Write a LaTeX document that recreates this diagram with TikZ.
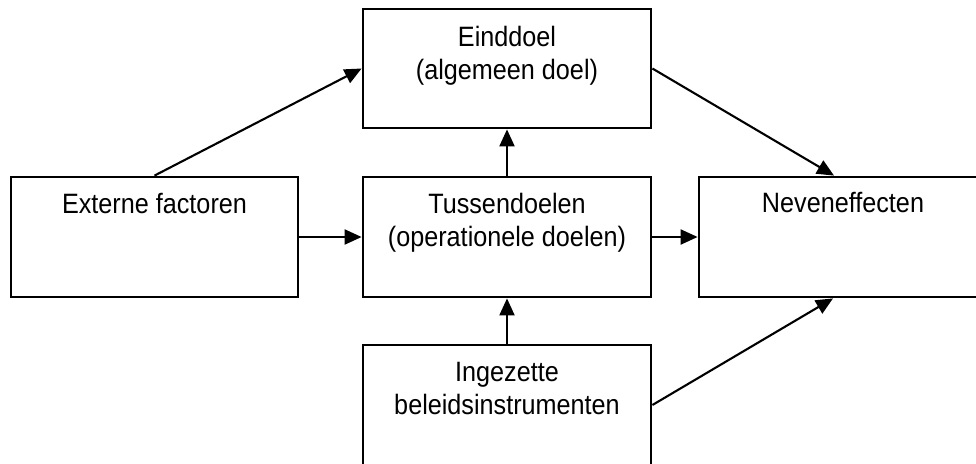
\documentclass[tikz,border=0pt]{standalone}
\usepackage{fontspec}
\setmainfont[FakeStretch=0.9]{Liberation Sans}
\usetikzlibrary{arrows.meta,calc}
\begin{document}
\begin{tikzpicture}[x=1pt,y=-1pt,
  box/.style={draw, line width=2.8pt, minimum width=288pt, minimum height=120pt, inner sep=0pt},
  boxtext/.style={anchor=base, align=center, inner sep=0pt, font=\fontsize{28}{33}\selectfont},
  flow/.style={line width=2.1pt, -{Triangle[length=17pt,width=15pt]}}]
  \useasboundingbox (0,0) rectangle (976,463);

  % boxes
  \node[box, minimum width=287pt, minimum height=120pt] (ext)  at (154.5,237) {};
  \node[box, minimum height=119pt] (eind) at (507,68.5) {};
  \node[box] (tus)  at (507,237) {};
  \node[box] (nev)  at (843,237) {};
  \node[box] (inz)  at (507,405) {};

  % box texts (placed by the baseline of their last line)
  \node[boxtext] (ext-t)  at ($(ext.north)+(0,38)$)  {Externe factoren};
  \node[boxtext] (eind-t) at ($(eind.north)+(0,72)$) {Einddoel\\(algemeen doel)};
  \node[boxtext] (tus-t)  at ($(tus.north)+(0,71)$)  {Tussendoelen\\(operationele doelen)};
  \node[boxtext] (nev-t)  at ($(nev.north)+(0,37)$)  {Neveneffecten};
  \node[boxtext] (inz-t)  at ($(inz.north)+(0,71)$)  {Ingezette\\beleidsinstrumenten};

  % connectors
  \draw[flow] (ext.north) -- (eind.west);
  \draw[flow] (eind.east) -- ([xshift=-9pt]nev.north);
  \draw[flow] (tus.north) -- (eind.south);
  \draw[flow] (ext.east) -- (tus.west);
  \draw[flow] (tus.east) -- (nev.west);
  \draw[flow] (inz.north) -- (tus.south);
  \draw[flow] (inz.east) -- ([xshift=-10pt]nev.south);
\end{tikzpicture}
\end{document}
